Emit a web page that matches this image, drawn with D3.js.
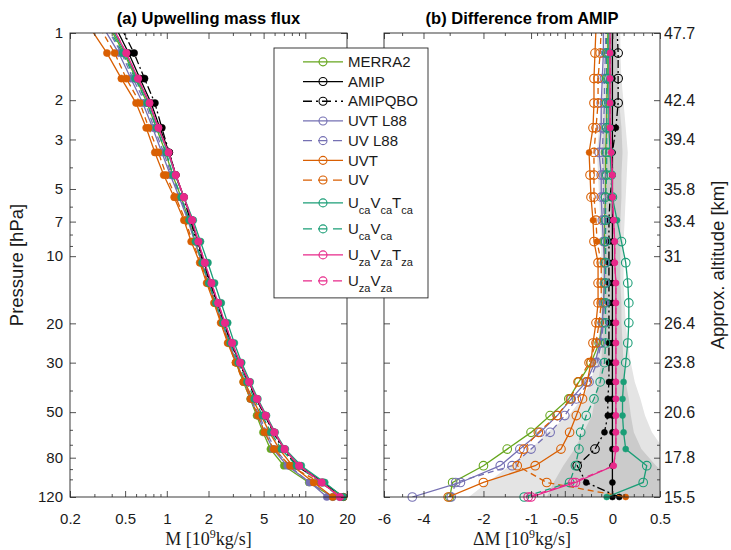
<!DOCTYPE html>
<html>
<head>
<meta charset="utf-8">
<script src="https://cdn.jsdelivr.net/npm/d3@7"></script>
<style>
  body { margin: 0; background: #fff; }
</style>
</head>
<body>
<div id="chart"></div>
<script>
// pressure levels [hPa] (first one sits just above the top of the plot)
const levels = [0.95, 1.23, 1.6, 2.06, 2.66, 3.43, 4.33, 5.44, 6.9, 8.6, 10.7, 13.2,
  16.2, 19.9, 24.5, 30.0, 36.6, 43.6, 51.8, 61.6, 73.2, 86.9, 103.3, 120];

// AMIP upwelling mass flux M [1e9 kg/s]
const amipFlux = [0.43, 0.53, 0.64, 0.77, 0.89, 1.04, 1.16, 1.33, 1.51, 1.67, 1.86, 2.07,
  2.32, 2.6, 2.93, 3.35, 3.9, 4.45, 5.15, 5.95, 7.05, 9.0, 13.5, 18.8];

// differences from AMIP, dM [1e9 kg/s]
const dMerra2 = [-0.04, -0.04, -0.04, -0.05, -0.05, -0.06, -0.06, -0.06, -0.07, -0.07, -0.07, -0.07,
  -0.08, -0.09, -0.12, -0.2, -0.33, -0.45, -0.7, -1.0, -1.45, -2.0, -2.9, -3.0];
const dAmip = [0, 0, 0, 0, 0, 0, 0, 0, 0, 0, 0, 0, 0, 0, 0, 0, 0, 0, 0, 0, 0, 0, 0, 0];
const dAmipQbo = [0.04, 0.05, 0.05, 0.05, 0.03, 0.0, 0.0, -0.02, -0.03, -0.03, -0.03, -0.03,
  -0.03, -0.03, -0.03, -0.03, -0.03, -0.04, -0.04, -0.07, -0.16, -0.35, -0.25, 0.06];
const dUvtL88 = [-0.08, -0.08, -0.09, -0.1, -0.1, -0.12, -0.1, -0.1, -0.09, -0.08, -0.07, -0.07,
  -0.08, -0.09, -0.11, -0.16, -0.25, -0.42, -0.6, -0.85, -1.2, -1.6, -2.65, -4.5];
const dUvL88 = [-0.06, -0.06, -0.07, -0.07, -0.08, -0.09, -0.08, -0.08, -0.07, -0.06, -0.06, -0.06,
  -0.07, -0.08, -0.1, -0.14, -0.22, -0.36, -0.5, -0.7, -1.0, -1.35, -2.8, -2.95];
const dUvt = [-0.15, -0.16, -0.17, -0.17, -0.18, -0.22, -0.21, -0.2, -0.18, -0.17, -0.13, -0.13,
  -0.13, -0.15, -0.18, -0.2, -0.24, -0.29, -0.36, -0.44, -0.55, -0.93, -2.0, -3.05];
const dUv = [-0.1, -0.11, -0.13, -0.13, -0.15, -0.17, -0.17, -0.17, -0.15, -0.14, -0.1, -0.1,
  -0.1, -0.12, -0.15, -0.22, -0.34, -0.43, -0.6, -0.88, -1.13, -1.25, -0.75, 0.12];
const dUcaVcaTca = [-0.03, -0.03, -0.03, -0.03, -0.03, -0.02, -0.01, 0.0, 0.04, 0.08, 0.12, 0.14,
  0.15, 0.15, 0.14, 0.12, 0.1, 0.09, 0.09, 0.1, 0.12, 0.34, 0.3, -0.05];
const dUcaVca = [-0.05, -0.05, -0.05, -0.05, -0.05, -0.05, -0.05, -0.06, -0.06, -0.06, -0.06, -0.06,
  -0.06, -0.06, -0.06, -0.07, -0.11, -0.17, -0.25, -0.31, -0.33, -0.37, -0.44, -1.12];
const dUzaVzaTza = [-0.02, -0.02, -0.02, -0.02, -0.02, -0.01, 0.0, 0.0, 0.01, 0.02, 0.02, 0.03,
  0.03, 0.03, 0.03, 0.03, 0.03, 0.03, 0.03, 0.03, 0.03, 0.01, -0.37, -1.0];
const dUzaVza = [-0.02, -0.02, -0.02, -0.02, -0.02, -0.01, 0.0, 0.0, 0.01, 0.02, 0.02, 0.03,
  0.03, 0.03, 0.03, 0.03, 0.03, 0.03, 0.03, 0.03, 0.03, 0.01, -0.4, -1.05];

// 1 = significant (filled marker) in panel b, 0 = open marker
const sigMerra2 = [0,0,0,0,0,0,0,0,0,0,0,0,0,0,0,0,0,0,0,0,0,0,0,0];
const sigAmip = [1,1,1,1,1,1,1,1,1,1,1,1,1,1,1,1,1,1,1,1,1,1,1,1];
const sigAmipQbo = [0,0,0,0,1,1,1,1,1,1,1,1,1,1,1,1,1,1,1,1,0,0,1,1];
const sigUvtL88 = [0,0,0,0,0,0,0,0,0,0,0,0,0,0,0,0,0,0,0,0,0,0,0,0];
const sigUvL88 = [0,0,0,0,0,0,0,0,0,0,0,0,0,0,0,0,0,0,0,0,0,0,0,0];
const sigUvt = [0,0,0,0,0,1,0,0,1,0,0,0,0,0,0,0,0,0,0,0,0,0,0,0];
const sigUv = [0,0,0,0,0,0,0,0,0,1,0,0,0,0,0,0,0,0,0,0,0,0,0,1];
const sigUcaVcaTca = [0,0,0,0,0,0,0,0,1,0,0,0,0,0,0,0,1,1,1,1,1,0,0,1];
const sigUcaVca = [0,0,0,0,0,0,0,0,0,0,0,0,0,0,0,0,0,0,0,0,0,0,0,0];
const sigUzaVzaTza = [1,1,1,1,1,1,1,1,1,1,1,1,1,1,1,1,1,1,1,1,1,1,0,0];
const sigUzaVza = [1,1,1,1,1,1,1,1,1,1,1,1,1,1,1,1,1,1,1,1,1,1,0,0];

// AMIP spread (shading in panel b)
const outerLo = [-0.07, -0.07, -0.08, -0.1, -0.12, -0.14, -0.13, -0.12, -0.11, -0.1, -0.1, -0.1,
  -0.1, -0.11, -0.13, -0.16, -0.2, -0.3, -0.45, -0.74, -1.0, -1.4, -1.9, -2.4];
const outerHi = [0.07, 0.07, 0.08, 0.1, 0.12, 0.14, 0.13, 0.12, 0.11, 0.1, 0.1, 0.1,
  0.11, 0.12, 0.14, 0.17, 0.21, 0.27, 0.32, 0.4, 0.55, 0.8, 1.0, 1.2];
const innerLo = [-0.04, -0.04, -0.05, -0.06, -0.08, -0.09, -0.08, -0.08, -0.07, -0.07, -0.07, -0.07,
  -0.07, -0.08, -0.09, -0.1, -0.13, -0.16, -0.19, -0.28, -0.38, -0.52, -0.65, -0.75];
const innerHi = [0.04, 0.04, 0.05, 0.06, 0.08, 0.09, 0.08, 0.08, 0.07, 0.07, 0.07, 0.07,
  0.08, 0.08, 0.09, 0.1, 0.12, 0.15, 0.17, 0.2, 0.28, 0.45, 0.7, 0.8];

const seriesNames = ["MERRA2", "AMIP", "AMIPQBO", "UVT L88", "UV L88", "UVT", "UV",
  "U{ca}V{ca}T{ca}", "U{ca}V{ca}", "U{za}V{za}T{za}", "U{za}V{za}"];
const seriesDelta = [dMerra2, dAmip, dAmipQbo, dUvtL88, dUvL88, dUvt, dUv,
  dUcaVcaTca, dUcaVca, dUzaVzaTza, dUzaVza];
const seriesSig = [sigMerra2, sigAmip, sigAmipQbo, sigUvtL88, sigUvL88, sigUvt, sigUv,
  sigUcaVcaTca, sigUcaVca, sigUzaVzaTza, sigUzaVza];

// tick labels
const pressureTicks = [1, 2, 3, 5, 7, 10, 20, 30, 50, 80, 120];
const pressureMinor = [4, 6, 8, 9, 40, 60, 70, 90, 100];
const altitudeLabels = ["47.7", "42.4", "39.4", "35.8", "33.4", "31", "26.4", "23.8", "20.6", "17.8", "15.5"];
const fluxTicks = [0.2, 0.5, 1, 2, 5, 10, 20];
const fluxMinor = [0.3, 0.4, 0.6, 0.7, 0.8, 0.9, 3, 4, 6, 7, 8, 9];
const diffTicks = [-6, -4, -2, -1, -0.5, 0, 0.5];
const diffMinor = [-5, -3, -1.5, -0.9, -0.8, -0.7, -0.6, -0.4, -0.3, -0.2, -0.1, 0.1, 0.2, 0.3, 0.4];

// styles
const styles = {
  "MERRA2": { color: "#66a61e", dash: null },
  "AMIP": { color: "#000000", dash: null },
  "AMIPQBO": { color: "#000000", dash: "8,3,2,3" },
  "UVT L88": { color: "#7570b3", dash: null },
  "UV L88": { color: "#7570b3", dash: "6,4" },
  "UVT": { color: "#d95f02", dash: null },
  "UV": { color: "#d95f02", dash: "6,4" },
  "U{ca}V{ca}T{ca}": { color: "#1b9e77", dash: null },
  "U{ca}V{ca}": { color: "#1b9e77", dash: "6,4" },
  "U{za}V{za}T{za}": { color: "#e7298a", dash: null },
  "U{za}V{za}": { color: "#e7298a", dash: "6,4" }
};

const sans = "'Liberation Sans', Arial, Helvetica, sans-serif";
const serif = "'Liberation Serif', 'Times New Roman', serif";
const axisColor = "#262626";

const svg = d3.select("#chart").append("svg")
  .attr("width", 731).attr("height", 550)
  .style("font-family", sans);
svg.append("rect").attr("width", 731).attr("height", 550).attr("fill", "#fff");

//scales
const plotTop = 33, plotBottom = 497;
const y = d3.scaleLog().domain([1, 120]).range([plotTop, plotBottom]);
const xL = d3.scaleLog().domain([0.2, 20]).range([70, 347]);
const xR = d3.scaleSymlog().constant(1).domain([-6, 0.5]).range([384, 660]);

const defs = svg.append("defs");
[["clipL", xL], ["clipR", xR]].forEach(([id, sx]) => {
  defs.append("clipPath").attr("id", id).append("rect")
    .attr("x", sx.range()[0]).attr("y", plotTop)
    .attr("width", sx.range()[1] - sx.range()[0]).attr("height", plotBottom - plotTop);
});

const series = seriesNames.map((name, k) => ({
  name: name, delta: seriesDelta[k], sig: seriesSig[k],
  color: styles[name].color, dash: styles[name].dash
}));

//panel b shading
const band = (lo, hi) => d3.area()
  .x0((d, i) => xR(lo[i]))
  .x1((d, i) => xR(hi[i]))
  .y((d, i) => y(levels[i]));
const shade = svg.append("g").attr("clip-path", "url(#clipR)");
shade.append("path").attr("d", band(outerLo, outerHi)(levels)).attr("fill", "#e4e4e4");
shade.append("path").attr("d", band(innerLo, innerHi)(levels)).attr("fill", "#cbcbcb");

//lines and markers
function drawSeries(sx, valueOf, clipId, panel) {
  series.forEach(s => {
    const vals = levels.map((p, i) => valueOf(s, i));
    const line = d3.line()
      .x((d, i) => sx(vals[i]))
      .y((d, i) => y(levels[i]));
    svg.append("path")
      .attr("clip-path", `url(#${clipId})`)
      .attr("d", line(levels))
      .attr("fill", "none")
      .attr("stroke", s.color)
      .attr("stroke-width", 1.3)
      .attr("stroke-dasharray", s.dash);
    const pts = levels.map((p, i) => ({ p: p, v: vals[i], f: panel === "a" ? 1 : s.sig[i] }))
      .filter(d => d.p >= 1);
    svg.append("g").selectAll("circle")
      .data(pts)
      .join("circle")
      .attr("cx", d => sx(d.v))
      .attr("cy", d => y(d.p))
      .attr("r", d => panel === "a" ? 3.6 : (d.f ? 3 : 4.3))
      .attr("fill", d => d.f ? s.color : "none")
      .attr("stroke", s.color)
      .attr("stroke-width", d => d.f ? 0.5 : 1.1);
  });
}

drawSeries(xL, (s, i) => amipFlux[i] + s.delta[i], "clipL", "a");
drawSeries(xR, (s, i) => s.delta[i], "clipR", "b");

//axes
function ticks(axisFn, scale, tx, ty, values, len, fmt, pad) {
  const a = axisFn(scale).tickValues(values)
    .tickSizeInner(-len).tickSizeOuter(0).tickPadding(pad || 6)
    .tickFormat(fmt || (() => ""));
  const g = svg.append("g").attr("transform", `translate(${tx},${ty})`).call(a);
  g.attr("font-family", sans).attr("font-size", 15);
  g.select(".domain").remove();
  g.selectAll("line").attr("stroke", axisColor).attr("stroke-width", 0.8);
  g.selectAll("text").attr("fill", "#1a1a1a");
  return g;
}
const plain = d => String(d);

// panel a
ticks(d3.axisLeft, y, 70, 0, pressureTicks, 6, plain, 7);
ticks(d3.axisLeft, y, 70, 0, pressureMinor, 3);
ticks(d3.axisRight, y, 347, 0, pressureTicks, 6);
ticks(d3.axisRight, y, 347, 0, pressureMinor, 3);
ticks(d3.axisBottom, xL, 0, plotBottom, fluxTicks, 6, plain, 16);
ticks(d3.axisBottom, xL, 0, plotBottom, fluxMinor, 3);
ticks(d3.axisTop, xL, 0, plotTop, fluxTicks, 6);
ticks(d3.axisTop, xL, 0, plotTop, fluxMinor, 3);

// panel b
ticks(d3.axisLeft, y, 384, 0, pressureTicks, 6);
ticks(d3.axisLeft, y, 384, 0, pressureMinor, 3);
ticks(d3.axisRight, y, 660, 0, pressureTicks, 6, (d, i) => altitudeLabels[i], 4)
  .selectAll("text").attr("font-size", 16);
ticks(d3.axisRight, y, 660, 0, pressureMinor, 3);
ticks(d3.axisBottom, xR, 0, plotBottom, diffTicks, 6, plain, 16);
ticks(d3.axisBottom, xR, 0, plotBottom, diffMinor, 3);
ticks(d3.axisTop, xR, 0, plotTop, diffTicks, 6);
ticks(d3.axisTop, xR, 0, plotTop, diffMinor, 3);

//frames
[xL, xR].forEach(sx => {
  svg.append("rect")
    .attr("x", sx.range()[0]).attr("y", plotTop)
    .attr("width", sx.range()[1] - sx.range()[0]).attr("height", plotBottom - plotTop)
    .attr("fill", "none").attr("stroke", axisColor).attr("stroke-width", 0.9);
});

//titles and axis labels
const midL = (xL.range()[0] + xL.range()[1]) / 2;
const midR = (xR.range()[0] + xR.range()[1]) / 2;
svg.append("text").attr("x", midL).attr("y", 24).attr("text-anchor", "middle")
  .attr("font-size", 16.5).attr("font-weight", "bold").text("(a) Upwelling mass flux");
svg.append("text").attr("x", midR).attr("y", 24).attr("text-anchor", "middle")
  .attr("font-size", 16.5).attr("font-weight", "bold").text("(b) Difference from AMIP");

svg.append("text").attr("transform", `translate(23,${(plotTop + plotBottom) / 2}) rotate(-90)`)
  .attr("text-anchor", "middle").attr("font-size", 18.5).attr("fill", "#1a1a1a").text("Pressure [hPa]");
svg.append("text").attr("transform", `translate(724,${(plotTop + plotBottom) / 2}) rotate(-90)`)
  .attr("text-anchor", "middle").attr("font-size", 18.5).attr("fill", "#1a1a1a").text("Approx. altitude [km]");

function unitLabel(x, prefix) {
  const t = svg.append("text").attr("x", x).attr("y", 545).attr("text-anchor", "middle")
    .attr("font-family", serif).attr("font-size", 18).attr("fill", "#1a1a1a");
  t.append("tspan").text(prefix + " [10");
  t.append("tspan").attr("dy", -7).attr("font-size", 12).text("9");
  t.append("tspan").attr("dy", 7).text("kg/s]");
}
unitLabel(midL, "M");
unitLabel(midR, "\u0394M");

//legend
const legend = svg.append("g");
const rowH = seriesNames.map(n => n.includes("{") ? 26 : 19.7);
const boxTop = 48;
legend.append("rect")
  .attr("x", 274).attr("y", boxTop)
  .attr("width", 154).attr("height", d3.sum(rowH) + 8)
  .attr("fill", "#fff").attr("stroke", axisColor).attr("stroke-width", 0.9);

let yy = boxTop + 4;
series.forEach((s, k) => {
  const cy = yy + rowH[k] / 2;
  yy += rowH[k];
  legend.append("line")
    .attr("x1", 303).attr("x2", 343).attr("y1", cy).attr("y2", cy)
    .attr("stroke", s.color).attr("stroke-width", 1.3)
    .attr("stroke-dasharray", s.dash ? (s.name === "AMIPQBO" ? "9,4,2,4" : "9,6") : null);
  legend.append("circle").attr("cx", 323).attr("cy", cy).attr("r", 4)
    .attr("fill", "none").attr("stroke", s.color).attr("stroke-width", 1.1);
  const t = legend.append("text").attr("x", 348).attr("y", cy + 5.2)
    .attr("font-size", 15).attr("fill", "#1a1a1a");
  const parts = s.name.split(/(\{[^}]*\})/).filter(p => p);
  let low = false;
  parts.forEach(p => {
    if (p[0] === "{") {
      t.append("tspan").attr("dy", low ? 0 : 6).attr("font-size", 11).text(p.slice(1, -1));
      low = true;
    } else {
      t.append("tspan").attr("dy", low ? -6 : 0).text(p);
      low = false;
    }
  });
});
</script>
</body>
</html>
